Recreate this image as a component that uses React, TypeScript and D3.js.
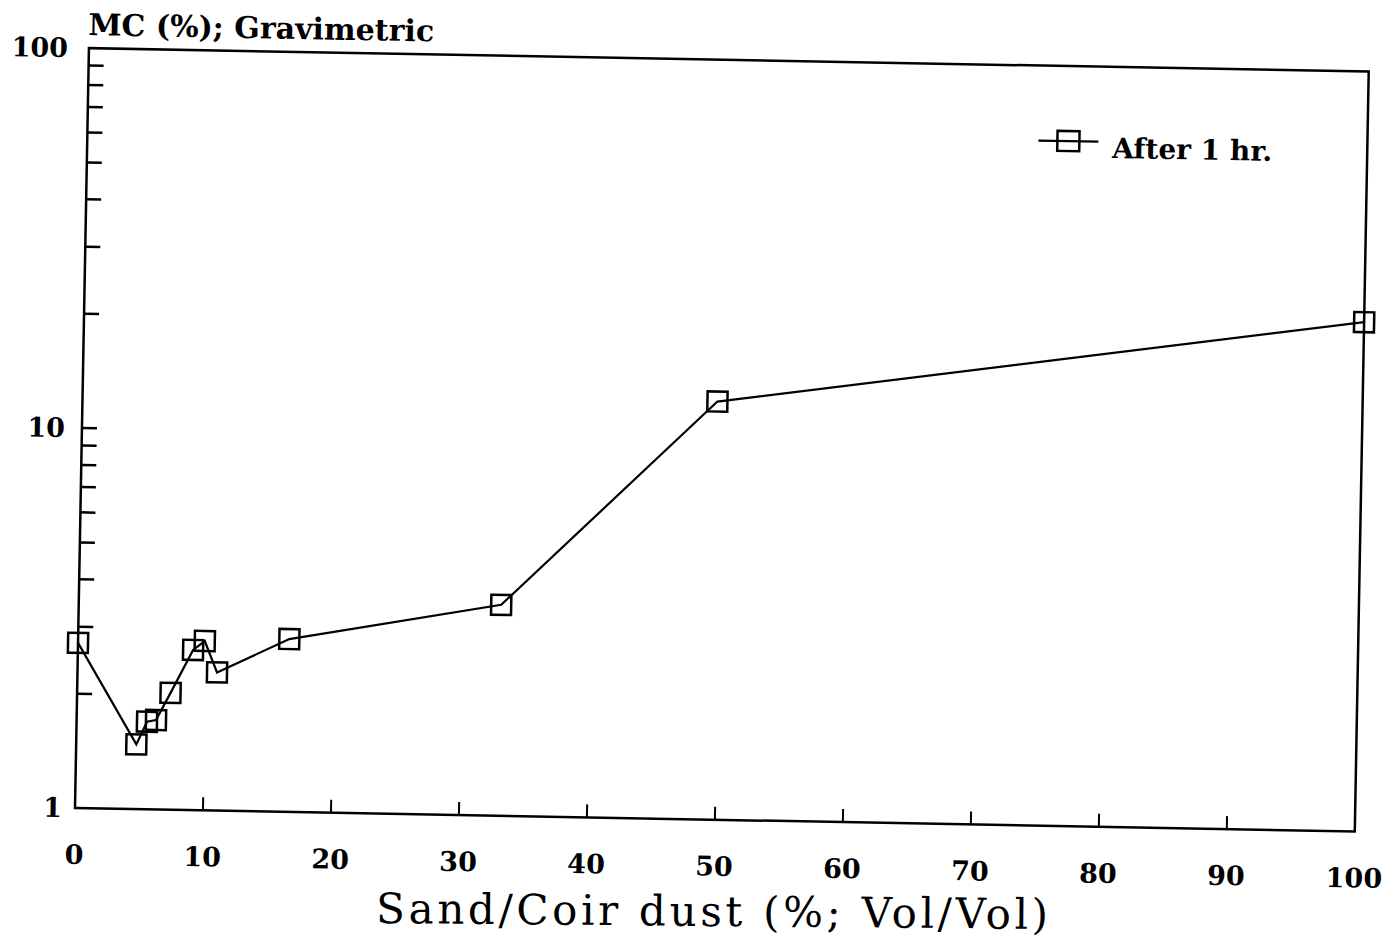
import React from 'react';
import * as d3 from 'd3';

// Data
const sandCoir = [0, 4.7, 5.5, 6.2, 7.3, 9.0, 9.9, 10.9, 16.5, 33, 49.6, 100];
const mcAfter1hr = [2.72, 1.48, 1.7, 1.72, 2.03, 2.64, 2.79, 2.31, 2.85, 3.59, 12.6, 21.9];
const xTickValues = [0, 10, 20, 30, 40, 50, 60, 70, 80, 90, 100];
const yLabelValues = [1, 10, 100];
const yMinorValues = [2, 3, 4, 5, 6, 7, 8, 9, 10, 20, 30, 40, 50, 60, 70, 80, 90];
const seriesName = 'After 1 hr.';
const yTitle = 'MC (%); Gravimetric';
const xTitle = 'Sand/Coir dust (%; Vol/Vol)';

const W = 1397;
const H = 945;
const left = 75;
const right = 1355;
const top = 48;
const bottom = 808;
const FONT = '"DejaVu Serif", "Liberation Serif", serif';

export default function App() {
  const x = d3.scaleLinear().domain([0, 100]).range([left, right]);
  const y = d3.scaleLog().domain([1, 100]).range([bottom, top]);
  const pts = sandCoir.map((v, i) => [x(v), y(mcAfter1hr[i])] as [number, number]);
  const line = d3.line()(pts) || '';
  const ms = 20;
  const legX = 1056;
  const legY = 123;

  return (
    <svg width={W} height={H} style={{ position: 'absolute', left: 0, top: 0, background: '#fff' }}>
      <g transform={`rotate(1.05, ${left}, ${bottom})`} fontFamily={FONT} fill="#000">
        <text x={74} y={35} fontSize={30} fontWeight="bold">{yTitle}</text>
        {/* axis frame */}
        <path
          d={`M${left},${top} L${left},${bottom} L${right},${bottom} L${right},${top} Z`}
          fill="none"
          stroke="#000"
          strokeWidth={2.5}
        />
        {/* y ticks */}
        {yMinorValues.map((v) => (
          <line key={'ym' + v} x1={left} x2={left + 15} y1={y(v)} y2={y(v)} stroke="#000" strokeWidth={2.5} />
        ))}
        {yLabelValues.map((v) => (
          <text
            key={'yl' + v}
            x={left - 13 - Math.log10(v) * 4}
            y={y(v)}
            dy="0.35em"
            textAnchor="end"
            fontSize={27}
            fontWeight="bold"
          >
            {v}
          </text>
        ))}
        {/* x ticks */}
        {xTickValues.map((v) => (
          <g key={'xt' + v}>
            {v > 0 && v < 100 && (
              <line x1={x(v)} x2={x(v)} y1={bottom} y2={bottom - 13} stroke="#000" strokeWidth={2} />
            )}
            <text x={x(v)} y={bottom + 56} textAnchor="middle" fontSize={27} fontWeight="bold">
              {v}
            </text>
          </g>
        ))}
        {/* series */}
        <path d={line} fill="none" stroke="#000" strokeWidth={2.2} />
        {pts.map(([px, py], i) => (
          <rect
            key={'m' + i}
            x={px - ms / 2}
            y={py - ms / 2}
            width={ms}
            height={ms}
            fill="none"
            stroke="#000"
            strokeWidth={2.5}
          />
        ))}
        {/* legend */}
        <line x1={legX - 30} x2={legX + 30} y1={legY} y2={legY} stroke="#000" strokeWidth={2.2} />
        <rect x={legX - 11} y={legY - 10} width={22} height={20} fill="none" stroke="#000" strokeWidth={2.5} />
        <text x={legX + 44} y={legY + 16} fontSize={28} fontWeight="bold">
          {seriesName}
        </text>
      </g>
      <text
        x={712}
        y={926}
        transform="rotate(0.5, 712, 926)"
        textAnchor="middle"
        fontFamily={FONT}
        fontSize={42}
        textLength={672}
        lengthAdjust="spacing"
        fill="#000"
      >
        {xTitle}
      </text>
    </svg>
  );
}
